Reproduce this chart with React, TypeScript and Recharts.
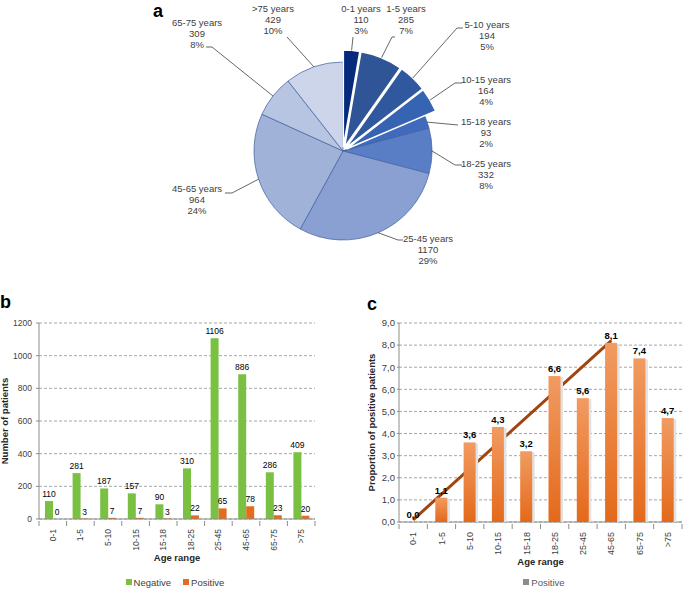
import React from 'react';
import {
  PieChart,
  Pie,
  Cell,
  BarChart,
  Bar,
  ComposedChart,
  Line,
  XAxis,
  YAxis,
  CartesianGrid,
  LabelList,
  Legend
} from 'recharts';

// ---- panel a: patients per age group ----
const pieLabels = [
  '0-1 years', '1-5 years', '5-10 years', '10-15 years', '15-18 years',
  '18-25 years', '25-45 years', '45-65 years', '65-75 years', '>75 years'
];
const pieCounts = [110, 285, 194, 164, 93, 332, 1170, 964, 309, 429];
const piePercents = [3, 7, 5, 4, 2, 8, 29, 24, 8, 10];
const explodedSlices = [0, 1, 2, 3];

// ---- panels b and c ----
const ageRanges = ['0-1', '1-5', '5-10', '10-15', '15-18', '18-25', '25-45', '45-65', '65-75', '>75'];
const negativeCounts = [110, 281, 187, 157, 90, 310, 1106, 886, 286, 409];
const positiveCounts = [0, 3, 7, 7, 3, 22, 65, 78, 23, 20];
const positiveRate = [0.0, 1.1, 3.6, 4.3, 3.2, 6.6, 5.6, 8.1, 7.4, 4.7];
// hand drawn trend line: from the 0-1 group up to the 45-65 group
const trendFrom = { age: '0-1', value: 0.1 };
const trendTo = { age: '45-65', value: 8.2 };

const countTicks = [0, 200, 400, 600, 800, 1000, 1200];
const rateTicks = [0, 1, 2, 3, 4, 5, 6, 7, 8, 9];

const FONT = '"Liberation Sans", Arial, sans-serif';
const TEXT = '#404040';
const AXIS = '#8c8c8c';
const GRID = '#a6a6a6';
const GREEN = '#7ac143';
const ORANGE = '#e46c1f';

const PIE_COLORS = [
  '#062a7c', '#2f5597', '#30589f', '#3763b3', '#3f6abd',
  '#5a7ec6', '#8aa0d3', '#a1b2d9', '#b7c4e2', '#cdd5ea'
];

const pieData = pieLabels.map((name, i) => ({ name, value: pieCounts[i], pct: piePercents[i] }));
const pieTotal = pieCounts.reduce((a, b) => a + b, 0);
// mid angle of each slice, degrees clockwise from 12 o'clock
const midAngles = pieCounts.map((v, i) => {
  const before = pieCounts.slice(0, i).reduce((a, b) => a + b, 0);
  return ((before + v / 2) / pieTotal) * 360;
});

const PIE_CX = 343;
const PIE_CY = 151;
const PIE_R = 89;
const EXPLODE_R = 97;
const EXPLODE_OFF = 4;
const RAD = Math.PI / 180;

// label placement relative to the pie centre (text centre, leader elbow, stub end)
const LABEL_LAYOUT = [
  { tx: 18, ty: -131, ex: 10, ey: -114, sx: 10 },
  { tx: 63, ty: -131, ex: 49, ey: -114, sx: 52 },
  { tx: 144, ty: -115, ex: 114, ey: -123, sx: 120 },
  { tx: 143, ty: -60, ex: 112, ey: -68, sx: 119 },
  { tx: 143, ty: -18, ex: 115, ey: -26, sx: 115 },
  { tx: 143, ty: 24, ex: 112, ey: 14, sx: 119 },
  { tx: 85, ty: 99, ex: 55, ey: 89, sx: 60 },
  { tx: -146, ty: 49, ex: -111, ey: 42, sx: -118 },
  { tx: -146, ty: -117, ex: -131, ey: -104, sx: -137 },
  { tx: -70, ty: -131, ex: -56, ey: -114, sx: -56 }
];

const renderPieLabel = (props: any) => {
  const { index } = props;
  const d = pieData[index];
  const lay = LABEL_LAYOUT[index];
  const exploded = explodedSlices.includes(index);
  const r = exploded ? EXPLODE_R + EXPLODE_OFF : PIE_R;
  const a = midAngles[index] * RAD;
  const x0 = PIE_CX + r * Math.sin(a);
  const y0 = PIE_CY - r * Math.cos(a);
  const tx = PIE_CX + lay.tx;
  const ty = PIE_CY + lay.ty;
  const pts = `${x0},${y0} ${PIE_CX + lay.ex},${PIE_CY + lay.ey} ${PIE_CX + lay.sx},${PIE_CY + lay.ey}`;
  return (
    <g key={`pl-${index}`}>
      <polyline points={pts} fill="none" stroke="#404040" strokeWidth={0.8} />
      <text textAnchor="middle" fontSize={9.5} fontFamily={FONT} fill={TEXT}>
        <tspan x={tx} y={ty - 8}>{d.name}</tspan>
        <tspan x={tx} y={ty + 3}>{d.value}</tspan>
        <tspan x={tx} y={ty + 14}>{`${d.pct}%`}</tspan>
      </text>
    </g>
  );
};

const barRows = ageRanges.map((age, i) => ({
  age,
  negative: negativeCounts[i],
  positive: positiveCounts[i],
  rate: positiveRate[i],
  trend: age === trendFrom.age ? trendFrom.value : age === trendTo.age ? trendTo.value : null
}));

// rotated category label plus Excel style tick marks between categories
const AgeTick = (props: any) => {
  const { x, y, payload, index, visibleTicksCount, fontSize, bandHalf } = props;
  const half = payload && payload.offset ? payload.offset : bandHalf;
  const last = index === visibleTicksCount - 1;
  return (
    <g>
      <line x1={x - half} x2={x - half} y1={y} y2={y + 5} stroke={AXIS} />
      {last && <line x1={x + half} x2={x + half} y1={y} y2={y + 5} stroke={AXIS} />}
      <text
        transform={`translate(${x},${y + 8}) rotate(-90)`}
        textAnchor="end"
        dy="0.35em"
        fontSize={fontSize}
        fontFamily={FONT}
        fill={TEXT}
      >
        {payload.value}
      </text>
    </g>
  );
};

// value above a bar, also for zero-height bars
const TopValue = (props: any) => {
  const { x, y, width, value, fontSize, fontWeight, fill, formatter } = props;
  const vb = props.viewBox || {};
  const bx = x ?? vb.x;
  const by = y ?? vb.y;
  const bw = width ?? vb.width;
  return (
    <text
      x={bx + bw / 2}
      y={by - 4}
      textAnchor="middle"
      fontSize={fontSize}
      fontWeight={fontWeight}
      fontFamily={FONT}
      fill={fill}
    >
      {formatter ? formatter(value) : value}
    </text>
  );
};

// bar with a soft grey drop shadow on its right side
const ShadowBar = (props: any) => {
  const { x, y, width, height, fill } = props;
  if (!(height > 0)) return <g />;
  return (
    <g>
      <rect x={x + 1} y={y + 1} width={width + 1.5} height={height - 1} fill="#e2e2e2" />
      <rect x={x} y={y} width={width} height={height} fill={fill} />
    </g>
  );
};

const makeLegend = (padLeft: number, grey: boolean) => (props: any) => {
  const items = (props.payload || []).filter((p: any) => p.type !== 'none');
  return (
    <div
      style={{
        display: 'flex',
        justifyContent: 'center',
        alignItems: 'center',
        height: 14,
        paddingLeft: padLeft,
        fontFamily: FONT,
        fontSize: 9.5,
        color: grey ? '#595959' : TEXT
      }}
    >
      {items.map((p: any) => (
        <span key={p.value} style={{ display: 'inline-flex', alignItems: 'center', margin: '0 6px' }}>
          <span
            style={{
              display: 'inline-block',
              width: 6,
              height: 6,
              marginRight: 2,
              background: grey ? '#8c8c8c' : p.color
            }}
          />
          {p.value}
        </span>
      ))}
    </div>
  );
};

const fmtComma = (v: any) => Number(v).toFixed(1).replace('.', ',');

export default function App() {
  return (
    <div
      style={{
        position: 'absolute',
        left: 0,
        top: 0,
        width: 685,
        height: 589,
        background: '#fff',
        fontFamily: FONT,
        overflow: 'hidden'
      }}
    >
      {/* a */}
      <div style={{ position: 'absolute', left: 0, top: 0 }}>
        <PieChart width={685} height={285} margin={{ top: 0, right: 0, bottom: 0, left: 0 }}>
          <Pie
            data={pieData}
            dataKey="value"
            cx={PIE_CX}
            cy={PIE_CY}
            outerRadius={PIE_R}
            startAngle={90}
            endAngle={-270}
            isAnimationActive={false}
            label={renderPieLabel}
            labelLine={false}
          >
            {pieData.map((d, i) => {
              const ex = explodedSlices.includes(i);
              return (
                <Cell
                  key={d.name}
                  fill={ex ? 'none' : PIE_COLORS[i]}
                  stroke={ex ? 'none' : '#3d5f9e'}
                  strokeWidth={0.7}
                />
              );
            })}
          </Pie>
          {explodedSlices.map((e) => {
            const a = midAngles[e] * RAD;
            return (
              <Pie
                key={`ex-${e}`}
                data={pieData}
                dataKey="value"
                cx={PIE_CX + EXPLODE_OFF * Math.sin(a)}
                cy={PIE_CY - EXPLODE_OFF * Math.cos(a)}
                outerRadius={EXPLODE_R}
                startAngle={90}
                endAngle={-270}
                isAnimationActive={false}
              >
                {pieData.map((d, i) => (
                  <Cell
                    key={d.name}
                    fill={i === e ? PIE_COLORS[i] : 'none'}
                    stroke={i === e ? '#ffffff' : 'none'}
                    strokeWidth={1.5}
                  />
                ))}
              </Pie>
            );
          })}
        </PieChart>
      </div>

      {/* b */}
      <div style={{ position: 'absolute', left: 0, top: 300 }}>
        <BarChart
          width={320}
          height={289}
          data={barRows}
          margin={{ top: 23, right: 5, left: 0, bottom: 0 }}
          barGap={0}
        >
          <CartesianGrid vertical={false} stroke={GRID} strokeDasharray="3 2" />
          <XAxis
            dataKey="age"
            interval={0}
            height={56}
            tickSize={0}
            tickLine={false}
            stroke={AXIS}
            tick={<AgeTick fontSize={8.5} bandHalf={13.8} />}
            label={{ value: 'Age range', position: 'insideBottom', offset: 14, fontSize: 9.5, fontWeight: 'bold', fill: '#262626' }}
          />
          <YAxis
            width={39}
            domain={[0, 1200]}
            ticks={countTicks}
            interval={0}
            stroke={AXIS}
            tickSize={3}
            tickMargin={4}
            tick={{ fontSize: 8.5, fill: TEXT, fontFamily: FONT }}
            label={{ value: 'Number of patients', angle: -90, position: 'insideLeft', offset: 5, fontSize: 9.5, fontWeight: 'bold', fill: '#262626', style: { textAnchor: 'middle' } }}
          />
          <Legend verticalAlign="bottom" height={14} content={makeLegend(35, false)} />
          <Bar dataKey="negative" name="Negative" fill={GREEN} barSize={8} isAnimationActive={false}>
            <LabelList dataKey="negative" content={<TopValue fontSize={8.5} fill={TEXT} />} />
          </Bar>
          <Bar dataKey="positive" name="Positive" fill={ORANGE} barSize={8} minPointSize={0.01} isAnimationActive={false}>
            <LabelList dataKey="positive" content={<TopValue fontSize={8.5} fill={TEXT} />} />
          </Bar>
        </BarChart>
      </div>

      {/* c */}
      <div style={{ position: 'absolute', left: 340, top: 300 }}>
        <ComposedChart
          width={345}
          height={289}
          data={barRows}
          margin={{ top: 23, right: 3, left: 20, bottom: 0 }}
        >
          <defs>
            <linearGradient id="rateFill" x1="0" y1="0" x2="0" y2="1">
              <stop offset="0%" stopColor="#f19b62" />
              <stop offset="100%" stopColor="#e4691a" />
            </linearGradient>
          </defs>
          <CartesianGrid vertical={false} stroke={GRID} strokeDasharray="3 2" />
          <XAxis
            dataKey="age"
            interval={0}
            height={53}
            tickSize={0}
            tickLine={false}
            stroke={AXIS}
            tick={<AgeTick fontSize={9} bandHalf={14.15} />}
            label={{ value: 'Age range', position: 'insideBottom', offset: 10, fontSize: 9.5, fontWeight: 'bold', fill: '#262626' }}
          />
          <YAxis
            width={39}
            domain={[0, 9]}
            ticks={rateTicks}
            interval={0}
            stroke={AXIS}
            tickSize={2}
            tickMargin={2}
            tickFormatter={fmtComma}
            tick={{ fontSize: 9.5, fill: TEXT, fontFamily: FONT }}
            label={{ value: 'Proportion of positive patients', angle: -90, position: 'insideLeft', offset: 12, fontSize: 9.5, fontWeight: 'bold', fill: '#262626', style: { textAnchor: 'middle' } }}
          />
          <Legend verticalAlign="bottom" height={14} content={makeLegend(46, true)} />
          <Line
            dataKey="trend"
            stroke="#a0450f"
            strokeWidth={3}
            dot={false}
            connectNulls
            legendType="none"
            zIndex={100}
            isAnimationActive={false}
          />
          <Bar
            dataKey="rate"
            name="Positive"
            fill="url(#rateFill)"
            barSize={12}
            shape={ShadowBar}
            zIndex={500}
            isAnimationActive={false}
          >
            <LabelList
              dataKey="rate"
              content={<TopValue fontSize={9.5} fontWeight="bold" fill="#262626" formatter={fmtComma} />}
            />
          </Bar>
        </ComposedChart>
      </div>

      {/* panel letters */}
      <svg width={685} height={589} style={{ position: 'absolute', left: 0, top: 0, pointerEvents: 'none' }}>
        <text x={153} y={17} fontSize={18} fontWeight="bold" fontFamily={FONT} fill="#000">a</text>
        <text x={0} y={308} fontSize={18} fontWeight="bold" fontFamily={FONT} fill="#000">b</text>
        <text x={367} y={310} fontSize={18} fontWeight="bold" fontFamily={FONT} fill="#000">c</text>
      </svg>
    </div>
  );
}
